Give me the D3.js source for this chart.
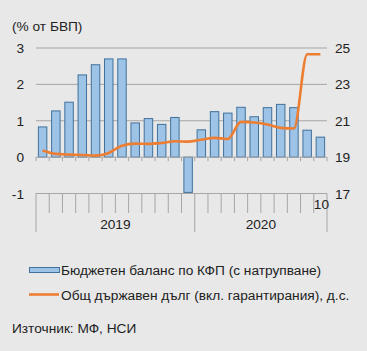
<!DOCTYPE html>
<html>
<head>
<meta charset="utf-8">
<script src="https://cdn.jsdelivr.net/npm/d3@7"></script>
<style>
  body { margin: 0; background: #e8e8e8; }
  svg { display: block; font-family: "Liberation Sans", Arial, sans-serif; }
</style>
</head>
<body>
<div id="chart"></div>
<script>
// months of 2019 (12) and 2020 (10)
const months = ["1","2","3","4","5","6","7","8","9","10","11","12",
                "1","2","3","4","5","6","7","8","9","10"];
const years = ["2019", "2020"];
const yearCounts = [12, 10];
// budget balance, cumulative (% of GDP)
const balance = [0.83, 1.27, 1.51, 2.26, 2.54, 2.70, 2.70, 0.94, 1.06, 0.90, 1.09, -0.97,
                 0.75, 1.25, 1.21, 1.37, 1.11, 1.36, 1.45, 1.36, 0.74, 0.55];
// general government debt (% of GDP), right axis
const debt = [19.37, 19.18, 19.14, 19.12, 19.08, 19.23, 19.63, 19.74, 19.73, 19.78, 19.87, 19.85,
              19.96, 20.06, 20.00, 20.94, 20.90, 20.79, 20.61, 20.57, 24.66, 24.66];
const leftTicks = [-1, 0, 1, 2, 3];
const rightTicks = [17, 19, 21, 23, 25];

const width = 367, height = 351;
const margin = { top: 48, right: 40, bottom: 158, left: 36 };
const fs = 13.7;

const svg = d3.select("#chart").append("svg")
  .attr("width", width)
  .attr("height", height);

const x = d3.scaleBand()
  .domain(d3.range(months.length))
  .range([margin.left, width - margin.right])
  .paddingInner(0.36)
  .paddingOuter(0.18);
const step = x.step();
const yL = d3.scaleLinear().domain([-1, 3]).range([193.5, margin.top]);
const yR = d3.scaleLinear().domain([17, 25]).range([193.5, margin.top]);

// title
svg.append("text")
  .attr("x", 12).attr("y", 31)
  .attr("font-size", fs).attr("fill", "#222")
  .text("(% от БВП)");

// gridlines
svg.append("g")
  .selectAll("line")
  .data(leftTicks.filter(d => d > 0))
  .join("line")
    .attr("x1", margin.left).attr("x2", width - margin.right)
    .attr("y1", d => yL(d)).attr("y2", d => yL(d))
    .attr("stroke", "#a6a6a6").attr("stroke-width", 1);

// left axis labels
svg.append("g")
  .selectAll("text")
  .data(leftTicks)
  .join("text")
    .attr("x", 24).attr("y", d => yL(d) + 5)
    .attr("text-anchor", "end")
    .attr("font-size", fs).attr("fill", "#222")
    .text(d => d);

// right axis labels
svg.append("g")
  .selectAll("text")
  .data(rightTicks)
  .join("text")
    .attr("x", 335).attr("y", d => yR(d) + 5)
    .attr("font-size", fs).attr("fill", "#222")
    .text(d => d);

// bars
svg.append("g")
  .selectAll("rect")
  .data(balance)
  .join("rect")
    .attr("x", (d, i) => x(i))
    .attr("width", x.bandwidth())
    .attr("y", d => yL(Math.max(0, d)))
    .attr("height", d => Math.abs(yL(d) - yL(0)))
    .attr("fill", "#9dc3e6")
    .attr("stroke", "#41719c")
    .attr("stroke-width", 1);

// zero axis with small ticks
const edges = d3.range(months.length + 1).map(i => margin.left + i * step);
svg.append("line")
  .attr("x1", margin.left).attr("x2", width - margin.right)
  .attr("y1", yL(0)).attr("y2", yL(0))
  .attr("stroke", "#a6a6a6");
svg.append("g")
  .selectAll("line")
  .data(edges)
  .join("line")
    .attr("x1", d => d).attr("x2", d => d)
    .attr("y1", yL(0)).attr("y2", yL(0) + 4)
    .attr("stroke", "#a6a6a6");

// category axis at bottom
svg.append("line")
  .attr("x1", margin.left).attr("x2", width - margin.right)
  .attr("y1", yL(-1)).attr("y2", yL(-1))
  .attr("stroke", "#a6a6a6");
const yearEdges = [0, yearCounts[0], yearCounts[0] + yearCounts[1]];
svg.append("g")
  .selectAll("line")
  .data(d3.range(months.length + 1))
  .join("line")
    .attr("x1", i => edges[i]).attr("x2", i => edges[i])
    .attr("y1", yL(-1))
    .attr("y2", i => yearEdges.includes(i) ? 232 : 213)
    .attr("stroke", "#a6a6a6");

// only the last month label is shown
svg.append("text")
  .attr("x", x(months.length - 1) + x.bandwidth() / 2 + 1)
  .attr("y", 209)
  .attr("text-anchor", "middle")
  .attr("font-size", fs).attr("fill", "#222")
  .text(months[months.length - 1]);

// year labels
svg.append("g")
  .selectAll("text")
  .data(years)
  .join("text")
    .attr("x", (d, i) => (edges[yearEdges[i]] + edges[yearEdges[i + 1]]) / 2)
    .attr("y", 229)
    .attr("text-anchor", "middle")
    .attr("font-size", fs).attr("fill", "#222")
    .text(d => d);

// debt line
const line = d3.line()
  .x((d, i) => x(i) + x.bandwidth() / 2)
  .y(d => yR(d))
  .curve(d3.curveMonotoneX);
svg.append("path")
  .datum(debt)
  .attr("d", line)
  .attr("fill", "none")
  .attr("stroke", "#ed7d31")
  .attr("stroke-width", 2.6)
  .attr("stroke-linejoin", "round");

// legend
const legend = svg.append("g");
legend.append("rect")
  .attr("x", 29.5).attr("y", 267.5)
  .attr("width", 30).attr("height", 5)
  .attr("fill", "#9dc3e6").attr("stroke", "#41719c");
legend.append("text")
  .attr("x", 61).attr("y", 275)
  .attr("font-size", fs).attr("fill", "#222")
  .text("Бюджетен баланс по КФП (с натрупване)");
legend.append("line")
  .attr("x1", 29).attr("x2", 59)
  .attr("y1", 294.5).attr("y2", 294.5)
  .attr("stroke", "#ed7d31").attr("stroke-width", 2.6);
legend.append("text")
  .attr("x", 61).attr("y", 299.5)
  .attr("font-size", fs).attr("fill", "#222")
  .text("Общ държавен дълг (вкл. гарантирания), д.с.");

svg.append("text")
  .attr("x", 12).attr("y", 333)
  .attr("font-size", fs).attr("fill", "#222")
  .text("Източник: МФ, НСИ");
</script>
</body>
</html>
